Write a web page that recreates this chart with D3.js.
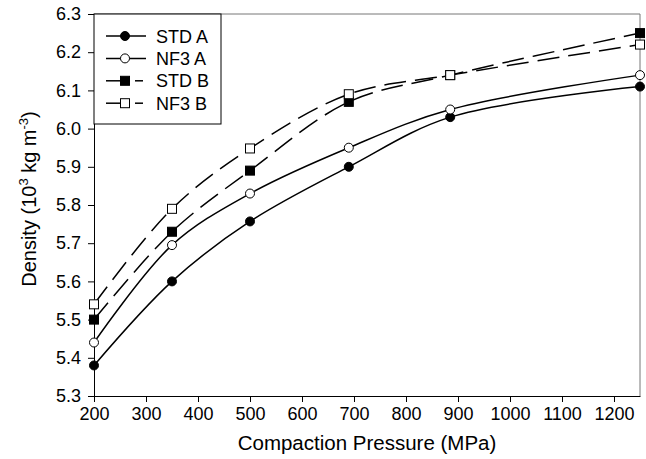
<!DOCTYPE html>
<html>
<head>
<meta charset="utf-8">
<script src="https://cdn.jsdelivr.net/npm/d3@7"></script>
<style>
  body { margin: 0; background: #fff; }
  svg text { font-family: "Liberation Sans", Arial, sans-serif; }
</style>
</head>
<body>
<div id="chart"></div>
<script>
// data
var pressure = [200, 350, 500, 690, 885, 1250];
var stdA = [5.38, 5.60, 5.757, 5.90, 6.03, 6.11];
var nf3A = [5.44, 5.695, 5.83, 5.95, 6.05, 6.14];
var stdB = [5.50, 5.73, 5.89, 6.07, 6.14, 6.25];
var nf3B = [5.54, 5.79, 5.948, 6.09, 6.14, 6.22];
var xTicks = [200, 300, 400, 500, 600, 700, 800, 900, 1000, 1100, 1200];
var yTicks = [5.3, 5.4, 5.5, 5.6, 5.7, 5.8, 5.9, 6.0, 6.1, 6.2, 6.3];

var series = [
    { name: "STD A", values: stdA, shape: "circle", fill: "#000", dash: null },
    { name: "NF3 A", values: nf3A, shape: "circle", fill: "#fff", dash: null },
    { name: "STD B", values: stdB, shape: "square", fill: "#000", dash: "22,9" },
    { name: "NF3 B", values: nf3B, shape: "square", fill: "#fff", dash: "22,9" }
];

var margin = { top: 14, right: 6, bottom: 63, left: 94 },
    width = 646 - margin.left - margin.right,
    height = 459 - margin.top - margin.bottom;

var svg = d3.select("#chart")
    .append("svg")
    .attr("width", 646)
    .attr("height", 459)
    .append("g")
    .attr("transform", "translate(" + margin.left + "," + margin.top + ")");

var x = d3.scaleLinear().domain([200, 1250]).range([0, width]);
var y = d3.scaleLinear().domain([5.3, 6.3]).range([height, 0]);

// frame (top and right)
svg.append("path")
    .attr("d", "M0,0H" + width + "V" + height)
    .attr("fill", "none")
    .attr("stroke", "#777")
    .attr("stroke-width", 1);

// X axis
var gx = svg.append("g")
    .attr("transform", "translate(0," + height + ")")
    .call(d3.axisBottom(x).tickValues(xTicks).tickSize(6).tickSizeOuter(0).tickPadding(5)
        .tickFormat(d3.format("d")));
gx.selectAll("text").style("font-size", "18px").attr("fill", "#000");

// Y axis
var gy = svg.append("g")
    .call(d3.axisLeft(y).tickValues(yTicks).tickSize(6).tickSizeOuter(0).tickPadding(7)
        .tickFormat(d3.format(".1f")));
gy.selectAll("text").style("font-size", "18px").attr("fill", "#000");

svg.selectAll(".domain").attr("stroke", "#000");
svg.selectAll(".tick line").attr("stroke", "#000");

// axis titles
svg.append("text")
    .attr("x", width / 2)
    .attr("y", height + 54)
    .attr("text-anchor", "middle")
    .style("font-size", "20.5px")
    .text("Compaction Pressure (MPa)");

var yt = svg.append("text")
    .attr("transform", "translate(-58," + (height / 2 - 6) + ") rotate(-90)")
    .attr("text-anchor", "middle")
    .style("font-size", "20px");
yt.append("tspan").text("Density (10");
yt.append("tspan").attr("dy", -8).style("font-size", "13px").text("3");
yt.append("tspan").attr("dy", 8).text(" kg m");
yt.append("tspan").attr("dy", -8).style("font-size", "13px").text("-3");
yt.append("tspan").attr("dy", 8).text(")");

var line = d3.line()
    .x(function (d, i) { return x(pressure[i]); })
    .y(function (d) { return y(d); })
    .curve(d3.curveCatmullRom);

function drawMarker(g, s, cx, cy) {
    if (s.shape === "circle") {
        g.append("circle")
            .attr("cx", cx).attr("cy", cy).attr("r", 4.5)
            .attr("fill", s.fill).attr("stroke", "#000").attr("stroke-width", 1);
    } else {
        g.append("rect")
            .attr("x", cx - 4.5).attr("y", cy - 4.5)
            .attr("width", 9).attr("height", 9)
            .attr("fill", s.fill).attr("stroke", "#000").attr("stroke-width", 1);
    }
}

// lines
series.forEach(function (s) {
    svg.append("path")
        .datum(s.values)
        .attr("fill", "none")
        .attr("stroke", "#000")
        .attr("stroke-width", 1.5)
        .attr("stroke-dasharray", s.dash)
        .attr("d", line);
});

// markers
series.forEach(function (s) {
    var g = svg.append("g");
    s.values.forEach(function (v, i) {
        drawMarker(g, s, x(pressure[i]), y(v));
    });
});

// legend
var lg = svg.append("g");
lg.append("rect")
    .attr("x", 0).attr("y", 0)
    .attr("width", 127).attr("height", 110)
    .attr("fill", "#fff")
    .attr("stroke", "#000")
    .attr("stroke-width", 1);

series.forEach(function (s, i) {
    var ly = 22 + i * 22.4;
    if (s.dash) {
        lg.append("line").attr("x1", 12).attr("x2", 31).attr("y1", ly).attr("y2", ly)
            .attr("stroke", "#000").attr("stroke-width", 1.5);
        lg.append("line").attr("x1", 41).attr("x2", 49).attr("y1", ly).attr("y2", ly)
            .attr("stroke", "#000").attr("stroke-width", 1.5);
    } else {
        lg.append("line").attr("x1", 12).attr("x2", 52).attr("y1", ly).attr("y2", ly)
            .attr("stroke", "#000").attr("stroke-width", 1.5);
    }
    drawMarker(lg, s, 31, ly);
    lg.append("text")
        .attr("x", 62)
        .attr("y", ly + 6.5)
        .style("font-size", "18px")
        .text(s.name);
});
</script>
</body>
</html>
